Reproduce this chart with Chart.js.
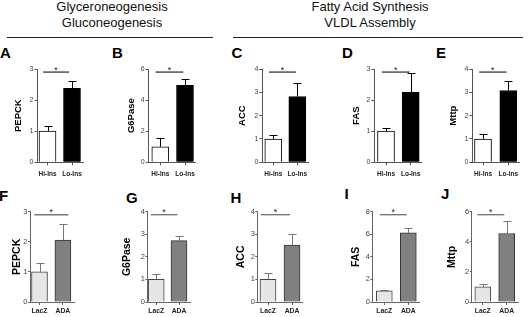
<!DOCTYPE html>
<html><head><meta charset="utf-8">
<script src="https://cdn.jsdelivr.net/npm/chart.js@4"></script>
<style>
html,body{margin:0;padding:0;background:#fff;width:528px;height:317px;overflow:hidden;font-family:"Liberation Sans",Arial,sans-serif;}
.hdr{position:absolute;font-size:13px;color:#111;text-align:center;line-height:16.5px;white-space:nowrap;}
.rule{position:absolute;height:0;border-top:1.5px solid #222;}
.lt{position:absolute;font-size:15px;font-weight:bold;color:#000;line-height:1;}
canvas{position:absolute;}
</style></head><body>
<div class="hdr" style="left:12px;width:200px;top:-1.5px">Glyceroneogenesis<br>Gluconeogenesis</div>
<div class="hdr" style="left:270px;width:200px;top:-1.5px">Fatty Acid Synthesis<br>VLDL Assembly</div>
<div class="rule" style="left:7px;width:206px;top:36.5px"></div>
<div class="rule" style="left:233px;width:290px;top:36.5px"></div>
<div class="lt" style="left:0px;top:44.6px">A</div>
<div class="lt" style="left:112px;top:44.6px">B</div>
<div class="lt" style="left:231.5px;top:44.6px">C</div>
<div class="lt" style="left:342px;top:44.6px">D</div>
<div class="lt" style="left:436px;top:44.6px">E</div>
<div class="lt" style="left:-1px;top:187.5px">F</div>
<div class="lt" style="left:126px;top:189.5px">G</div>
<div class="lt" style="left:230.6px;top:189.5px">H</div>
<div class="lt" style="left:344.6px;top:186px">I</div>
<div class="lt" style="left:441px;top:186px">J</div>
<script>
// ---- data ----
const topGroups = ['Hi-Ins', 'Lo-Ins'];
const bottomGroups = ['LacZ', 'ADA'];
const genes = ['PEPCK', 'G6Pase', 'ACC', 'FAS', 'Mttp'];
const hiInsMean = [1.0, 1.0, 1.0, 1.0, 1.0];
const hiInsErr  = [0.16, 0.54, 0.17, 0.10, 0.20];
const loInsMean = [2.38, 4.95, 2.82, 2.25, 3.08];
const loInsErr  = [0.24, 0.43, 0.57, 0.61, 0.40];
const lacZMean  = [1.0, 1.0, 1.0, 1.0, 1.0];
const lacZErr   = [0.28, 0.22, 0.29, 0.05, 0.17];
const adaMean   = [2.06, 2.72, 2.52, 6.12, 4.55];
const adaErr    = [0.54, 0.20, 0.50, 0.48, 0.80];
const topAxisMax = [3, 6, 4, 3, 4];
const topAxisStep = [1, 2, 1, 1, 1];
const bottomAxisMax = [3, 4, 4, 8, 6];
const bottomAxisStep = [1, 1, 1, 2, 2];

// ---- layout (pixel geometry only) ----
const layoutTop = [
  {axisX: 37.5, c0: 47.5, c1: 72, right: 83, titleX: 19, sig: [-0.18, 0.88]},
  {axisX: 148.7, c0: 160.3, c1: 185, right: 195, titleX: 132, sig: [-0.19, 0.93]},
  {axisX: 262.3, c0: 273.3, c1: 297.3, right: 308, titleX: 242.7, sig: [-0.18, 0.95]},
  {axisX: 374.3, c0: 386, c1: 410.7, right: 421, titleX: 356.5, sig: [-0.17, 0.95]},
  {axisX: 472.3, c0: 483, c1: 508.3, right: 519, titleX: 453.3, sig: [-0.15, 0.93]}
];
const layoutBottom = [
  {axisX: 30, c0: 39.5, c1: 62.9, right: 74, titleX: 17.5, sig: [-0.22, 1.23]},
  {axisX: 147.3, c0: 156.2, c1: 179, right: 190, titleX: 127.2, sig: [-0.24, 0.93]},
  {axisX: 257.3, c0: 268, c1: 292, right: 302, titleX: 240.8, sig: [-0.3, 0.92]},
  {axisX: 372.3, c0: 384.3, c1: 408.3, right: 419, titleX: 355.8, sig: [-0.18, 0.93]},
  {axisX: 471.7, c0: 482.8, c1: 506.7, right: 518, titleX: 452.5, sig: [-0.23, 0.9]}
];
const rowTopStyle = {top: 69, bottom: 162.3, titleSize: 9.5, tickSize: 7, xTickSize: 6.5, xPad: 5.5,
  yTickLen: 3, yPad: 1, barW: 17, fills: ['#ffffff', '#000000'], borders: ['#000000', '#000000'],
  axisColor: '#555', errColor: '#000', sigColor: '#444'};
const rowBottomStyle = {top: 211.7, bottom: 302, titleSize: 10.5, tickSize: 7.5, xTickSize: 6.8, xPad: 1.6,
  yTickLen: 2, yPad: 0.5, barW: 16, fills: ['#e6e6e6', '#808080'], borders: ['#444', '#333'],
  axisColor: '#666', errColor: '#777', sigColor: '#777'};

Chart.defaults.font.family = '"Liberation Sans", Arial, sans-serif';
Chart.defaults.color = '#444';

const annot = {
  id: 'annot',
  afterDatasetsDraw(chart, args, o) {
    const {ctx, scales: {x, y}} = chart;
    ctx.save();
    ctx.strokeStyle = o.errColor; ctx.lineWidth = 1;
    o.means.forEach((m, i) => {
      const px = Math.round(x.getPixelForValue(i)) + 0.5;
      const y0 = y.getPixelForValue(m), y1 = Math.round(y.getPixelForValue(m + o.errs[i])) + 0.5;
      ctx.beginPath(); ctx.moveTo(px, y0); ctx.lineTo(px, y1);
      ctx.moveTo(px - 4, y1); ctx.lineTo(px + 4, y1); ctx.stroke();
    });
    const sy = y.getPixelForValue(o.sigY);
    const x0 = x.getPixelForValue(o.sig[0]), x1 = x.getPixelForValue(o.sig[1]);
    ctx.strokeStyle = o.sigColor; ctx.lineWidth = 1.4;
    ctx.beginPath(); ctx.moveTo(x0, sy); ctx.lineTo(x1, sy); ctx.stroke();
    ctx.fillStyle = '#222'; ctx.font = '9px "Liberation Sans", Arial, sans-serif';
    ctx.textAlign = 'center'; ctx.textBaseline = 'alphabetic';
    ctx.fillText('*', (x0 + x1) / 2, sy + 0.5);
    ctx.restore();
  }
};

function makeChart(g, st, gene, groups, means, errs, maxV, stepV) {
  const s = g.c1 - g.c0;
  const xmin = -(g.c0 - g.axisX) / s, xmax = (g.right - g.c0) / s;
  const lh = st.titleSize * 1.2;
  const cLeft = Math.round(g.titleX - lh / 2);
  const yW = g.axisX - cLeft;
  const cTop = Math.floor(st.top - 8);
  const padTop = st.top - cTop;
  const xH = 22;
  const cW = Math.ceil(g.right - cLeft + 14);
  const padRight = cLeft + cW - g.right;
  const cH = Math.ceil(st.bottom - cTop + xH);
  const xHfit = cTop + cH - st.bottom;
  const cv = document.createElement('canvas');
  cv.width = cW; cv.height = cH;
  cv.style.left = cLeft + 'px'; cv.style.top = cTop + 'px';
  cv.style.width = cW + 'px'; cv.style.height = cH + 'px';
  document.body.appendChild(cv);
  new Chart(cv, {
    type: 'bar',
    data: {
      datasets: [{
        data: means.map((m, i) => ({x: i, y: m})),
        backgroundColor: st.fills, borderColor: st.borders, borderWidth: 1,
        barThickness: st.barW
      }]
    },
    options: {
      responsive: false, animation: false, devicePixelRatio: 1,
      layout: {padding: {top: padTop, right: padRight, left: 0, bottom: 0}},
      plugins: {legend: {display: false}, tooltip: {enabled: false},
        annot: {means, errs, sig: g.sig, sigY: maxV * 0.967, errColor: st.errColor, sigColor: st.sigColor}},
      scales: {
        x: {
          type: 'linear', min: xmin, max: xmax, bounds: 'data', offset: false,
          afterBuildTicks: (sc) => { sc.ticks = [{value: 0}, {value: 1}]; },
          afterFit: (sc) => { sc.height = xHfit; sc.paddingLeft = 0; sc.paddingRight = 0; },
          ticks: {callback: (v) => groups[v], font: {size: st.xTickSize, weight: 'bold'}, color: '#222',
            padding: st.xPad, maxRotation: 0, autoSkip: false},
          grid: {offset: false, drawOnChartArea: false, drawTicks: true, tickLength: 3, color: st.axisColor},
          border: {display: true, color: st.axisColor, width: 1}
        },
        y: {
          min: 0, max: maxV,
          afterFit: (sc) => { sc.width = yW; sc.paddingTop = 0; sc.paddingBottom = 0; },
          ticks: {stepSize: stepV, font: {size: st.tickSize}, color: '#444', padding: st.yPad},
          grid: {drawOnChartArea: false, drawTicks: true, tickLength: st.yTickLen, color: st.axisColor},
          border: {display: true, color: st.axisColor, width: 1},
          title: {display: true, text: gene, font: {size: st.titleSize, weight: 'bold'}, color: '#000', padding: 0}
        }
      }
    },
    plugins: [annot]
  });
}

genes.forEach((gene, i) => {
  makeChart(layoutTop[i], rowTopStyle, gene, topGroups, [hiInsMean[i], loInsMean[i]], [hiInsErr[i], loInsErr[i]], topAxisMax[i], topAxisStep[i]);
  makeChart(layoutBottom[i], rowBottomStyle, gene, bottomGroups, [lacZMean[i], adaMean[i]], [lacZErr[i], adaErr[i]], bottomAxisMax[i], bottomAxisStep[i]);
});
</script>
</body></html>
